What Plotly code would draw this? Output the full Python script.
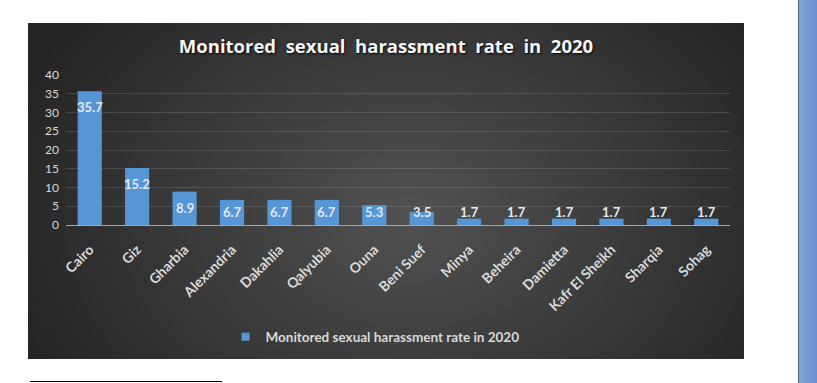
import base64, struct, zlib
import numpy as np
import plotly.graph_objects as go

# ---------------- data ----------------
categories = ["Cairo", "Giz", "Gharbia", "Alexandria", "Dakahlia", "Qalyubia", "Ouna",
              "Beni Suef", "Minya", "Beheira", "Damietta", "Kafr El Sheikh", "Sharqia", "Sohag"]
values = [35.7, 15.2, 8.9, 6.7, 6.7, 6.7, 5.3, 3.5, 1.7, 1.7, 1.7, 1.7, 1.7, 1.7]
y_ticks = [0, 5, 10, 15, 20, 25, 30, 35, 40]
series_name = "Monitored sexual harassment rate in 2020"
title_text = "Monitored\u00a0 sexual\u00a0 harassment\u00a0 rate\u00a0 in\u00a0 2020"

W, H = 817, 383
L, R, T, B = 66, 730, 75, 225  # plot area in pixels
BAR_COLOR = "#5796d6"


# ---------------- background picture (gradient chart box + side bar) ----------------
def png_uri(arr):
    h, w, _ = arr.shape
    raw = b"".join(b"\x00" + arr[i].tobytes() for i in range(h))

    def chunk(tag, data):
        c = struct.pack(">I", len(data)) + tag + data
        return c + struct.pack(">I", zlib.crc32(tag + data) & 0xFFFFFFFF)

    png = (b"\x89PNG\r\n\x1a\n"
           + chunk(b"IHDR", struct.pack(">IIBBBBB", w, h, 8, 2, 0, 0, 0))
           + chunk(b"IDAT", zlib.compress(raw, 9))
           + chunk(b"IEND", b""))
    return "data:image/png;base64," + base64.b64encode(png).decode()


img = np.full((H, W, 3), 255, dtype=np.float64)
yy, xx = np.mgrid[0:H, 0:W]
bx0, bx1, by0, by1 = 28, 744, 23, 359
cx, cy, rx, ry = 410, 215, 430, 320
d = np.sqrt(((xx - cx) / rx) ** 2 + ((yy - cy) / ry) ** 2)
g = 82 - 46 * np.clip(d, 0, 1)
inbox = (xx >= bx0) & (xx < bx1) & (yy >= by0) & (yy < by1)
for k in range(3):
    img[..., k] = np.where(inbox, g, img[..., k])
# blue side bar
side = xx >= 798
t = np.clip((xx - 799) / 18.0, 0, 1)
blue = np.stack([0x7e - 0x14 * t, 0xa2 - 0x12 * t, 0xd6 - 0x0e * t], axis=-1)
for k in range(3):
    img[..., k] = np.where(side, blue[..., k], img[..., k])
edge = xx == 798
img[edge] = [0x50, 0x66, 0x88]
img = img.astype(np.uint8)
bg_uri = png_uri(img)


def px_to_paper_x(px):
    return (px - L) / (R - L)


def px_to_paper_y(py):
    return (B - py) / (B - T)


# ---------------- figure ----------------
fig = go.Figure()
fig.add_trace(go.Bar(
    x=categories, y=values, name=series_name,
    marker=dict(color=BAR_COLOR, line=dict(width=0)),
    showlegend=False,
))
# legend entry with a small square key
fig.add_trace(go.Scatter(
    x=[categories[0]], y=[None], mode="markers", name=series_name,
    marker=dict(symbol="square", size=8, color=BAR_COLOR), showlegend=True,
    hoverinfo="skip",
))

label_font = dict(family="Lato", size=13, color="#e4e8ee", weight="bold")
for c, v in zip(categories, values):
    fig.add_annotation(
        x=c, y=max(v - 4.3, 3.5), xref="x", yref="y", text=f"{v}",
        showarrow=False, font=label_font, yanchor="middle",
    )

fig.update_layout(
    width=W, height=H,
    margin=dict(l=L, r=W - R, t=T, b=H - B, pad=0),
    paper_bgcolor="white",
    plot_bgcolor="rgba(0,0,0,0)",
    bargap=0.49,
    title=dict(
        text=title_text, x=386 / W, xanchor="center", y=1 - 47 / H, yanchor="middle",
        font=dict(family="Open Sans", size=18.5, color="#f4f6fa", weight="bold",
                  shadow="1px 1px 2px rgba(0,0,0,0.9)"),
    ),
    legend=dict(
        orientation="h", x=px_to_paper_x(375), xanchor="center",
        y=px_to_paper_y(337), yanchor="middle",
        font=dict(family="Lato", size=13.5, color="#d9d9d9", weight="bold"),
        bgcolor="rgba(0,0,0,0)", itemwidth=30,
    ),
    images=[dict(
        source=bg_uri, xref="paper", yref="paper",
        x=px_to_paper_x(0), y=px_to_paper_y(0),
        sizex=W / (R - L), sizey=H / (B - T),
        xanchor="left", yanchor="top", sizing="stretch", layer="below",
    )],
    shapes=[dict(
        type="line", xref="paper", yref="paper",
        x0=px_to_paper_x(30), x1=px_to_paper_x(222),
        y0=px_to_paper_y(381.5), y1=px_to_paper_y(381.5),
        line=dict(color="black", width=1),
    )],
)

fig.update_xaxes(
    range=[-0.5, len(categories) - 0.5],
    tickangle=-45, tickfont=dict(family="Lato", size=14, color="#d9d9d9", weight="bold"),
    showgrid=False, showline=True, linecolor="#a6a6a6", linewidth=1,
    ticks="", zeroline=False, ticklabelstandoff=10,
)
fig.update_yaxes(
    range=[0, 40], tickvals=y_ticks, showline=False,
    tickfont=dict(family="Lato", size=12, color="#d9d9d9"),
    gridcolor="rgba(255,255,255,0.13)", gridwidth=1, zeroline=False,
    ticklabelstandoff=6,
)

fig.write_html("out.html", config={"displayModeBar": False},
               post_script="document.body.style.margin='0px';")
